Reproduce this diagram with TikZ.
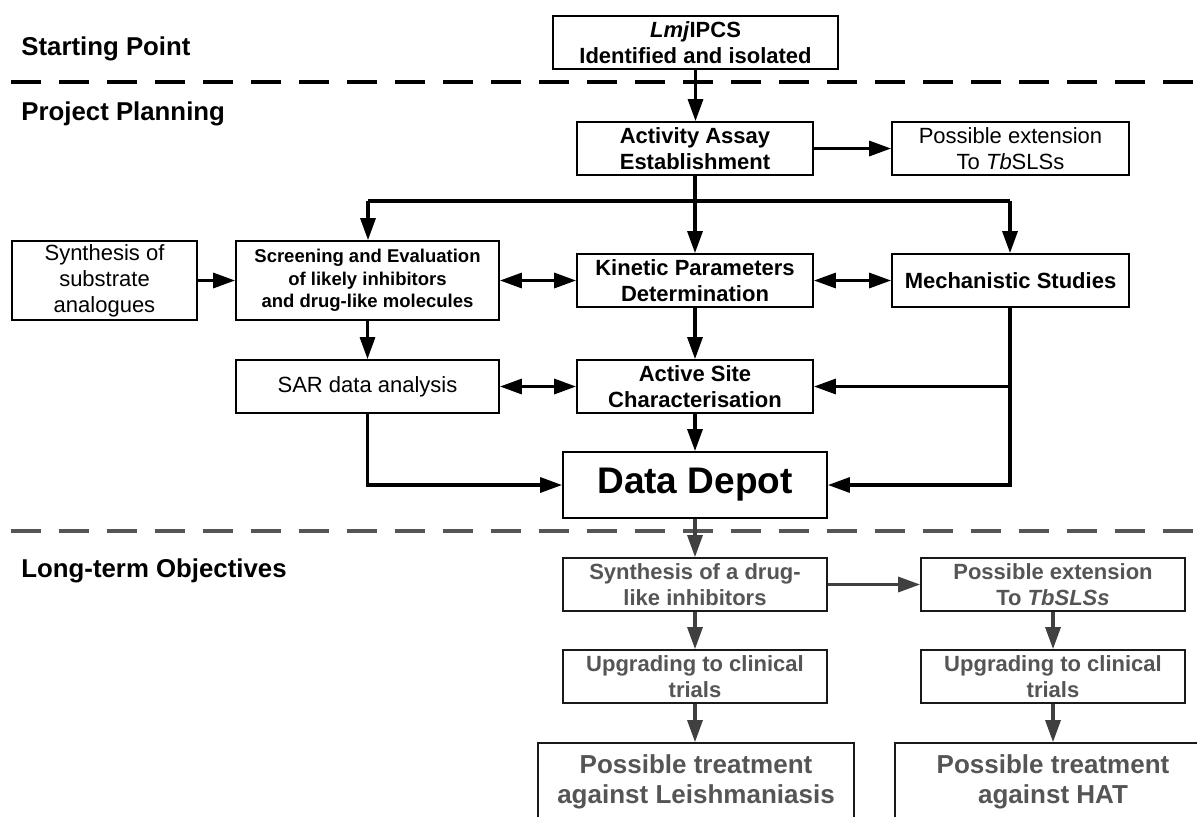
\documentclass[tikz,border=0pt]{standalone}
\usepackage{fontspec}
\setmainfont{Liberation Sans}
\usetikzlibrary{arrows.meta}
\definecolor{gtext}{RGB}{85,85,85}
\definecolor{garrow}{RGB}{64,64,64}
\definecolor{gdash}{RGB}{85,85,85}
\begin{document}
\begin{tikzpicture}[x=0.5pt,y=-0.5pt,
  box/.style={draw, line width=0.9pt, align=center, inner sep=0pt, fill=white},
  f11/.style={font=\fontsize{11}{13}\selectfont},
  f11b/.style={font=\fontsize{11}{13}\selectfont\bfseries},
  fscr/.style={font=\fontsize{9.25}{11.25}\selectfont\bfseries},
  fsec/.style={font=\fontsize{12.9}{15}\selectfont\bfseries},
  fbig/.style={font=\fontsize{18.5}{22}\selectfont\bfseries},
  fbot/.style={font=\fontsize{13}{15}\selectfont\bfseries},
  gbox/.style={box, text=gtext, draw=black!90},
  arr/.style={-{Triangle[length=11pt,width=7.5pt]}, line width=1.6pt},
  darr/.style={{Triangle[length=11pt,width=7.5pt]}-{Triangle[length=11pt,width=7.5pt]}, line width=1.6pt},
  garr/.style={arr, draw=garrow, color=garrow},
  plain/.style={line width=1.6pt},
  dashline/.style={line width=1.75pt, dash pattern=on 15pt off 9pt}
]
\fill[white] (0,0) rectangle (1197,816);
\clip (0,0) rectangle (1197,816);

% section labels
\node[fsec, anchor=west, inner sep=0pt] (lab1) at (21,49) {Starting Point};
\node[fsec, anchor=west, inner sep=0pt] (lab2) at (21,114) {Project Planning};
\node[fsec, anchor=west, inner sep=0pt] (lab3) at (21,571) {Long-term Objectives};

% dashed separators
\draw[dashline] (11,82) -- (1197,82);
\draw[dashline, draw=gdash] (11,531) -- (1197,531);

% top boxes
\node[box, f11b, minimum width=142.5pt, minimum height=26.5pt] (lmj) at (695.5,42.5) {\textit{Lmj}IPCS\\Identified and isolated};
\node[box, f11b, minimum width=118pt, minimum height=26.5pt] (act) at (695,148.5) {Activity Assay\\Establishment};
\node[box, f11, minimum width=118.5pt, minimum height=26.5pt] (ext1) at (1010.5,148.5) {Possible extension\\To \textit{Tb}SLSs};

\node[box, f11, minimum width=92.5pt, minimum height=39.5pt] (syn) at (104.5,280.5) {Synthesis of\\substrate\\analogues};
\node[box, fscr, minimum width=131.5pt, minimum height=39.5pt] (scr) at (367.5,280.5) {Screening and Evaluation\\of likely inhibitors\\and drug-like molecules};
\node[box, f11b, minimum width=118pt, minimum height=26.5pt] (kin) at (695,280.5) {Kinetic Parameters\\Determination};
\node[box, f11b, minimum width=118.5pt, minimum height=26.5pt] (mech) at (1010.5,280.5) {Mechanistic Studies};

\node[box, f11, minimum width=131.5pt, minimum height=26.5pt] (sar) at (367.5,386.5) {SAR data analysis};
\node[box, f11b, minimum width=118pt, minimum height=26.5pt] (acs) at (695,386.5) {Active Site\\Characterisation};

\node[box, fbig, minimum width=132pt, minimum height=33pt] (dd) at (695,485) {Data Depot};

% long-term boxes
\node[gbox, f11b, minimum width=132pt, minimum height=26.5pt] (sdl) at (695,584.5) {Synthesis of a drug-\\like inhibitors};
\node[gbox, f11b, minimum width=132pt, minimum height=26.5pt] (ext2) at (1053,584.5) {Possible extension\\To \textit{TbSLSs}};
\node[gbox, f11b, minimum width=132pt, minimum height=26.5pt] (up1) at (695,676.5) {Upgrading to clinical\\trials};
\node[gbox, f11b, minimum width=132pt, minimum height=26.5pt] (up2) at (1053,676.5) {Upgrading to clinical\\trials};
\node[gbox, fbot, minimum width=158pt, minimum height=39pt] (tr1) at (696,782) {Possible treatment\\against Leishmaniasis};
\node[gbox, fbot, minimum width=158pt, minimum height=39pt] (tr2) at (1053,782) {Possible treatment\\against HAT};

% connectors: planning
\draw[arr] (lmj.south) -- (lmj.south |- act.north);
\draw[arr] (act.east) -- (ext1.west);
\coordinate (busL) at (368,201);
\coordinate (busR) at (1010,201);
\draw[plain] (busL) -- (busR);
\draw[arr] (busL) -- (busL |- scr.north);
\draw[arr] (busR) -- (busR |- mech.north);
\draw[arr] (act.south) -- (kin.north);
\draw[arr] (syn.east) -- (scr.west);
\draw[darr] (scr.east) -- (kin.west);
\draw[darr] (kin.east) -- (mech.west);
\draw[arr] (scr.south) -- (sar.north);
\draw[arr] (kin.south) -- (acs.north);
\draw[darr] (sar.east) -- (acs.west);
\draw[arr] (acs.south) -- (dd.north);
\coordinate (mechdown) at (1010,307);
\draw[arr] (mechdown) |- (dd.east);
\draw[arr] (mechdown |- acs.east) -- (acs.east);
\draw[arr] (sar.south) |- (dd.west);

% connectors: long-term
\draw[garr] (dd.south) -- (sdl.north);
\draw[garr] (sdl.east) -- (ext2.west);
\draw[garr] (sdl.south) -- (up1.north);
\draw[garr] (ext2.south) -- (up2.north);
\draw[garr] (up1.south) -- (up1.south |- tr1.north);
\draw[garr] (up2.south) -- (tr2.north);
\end{tikzpicture}
\end{document}
